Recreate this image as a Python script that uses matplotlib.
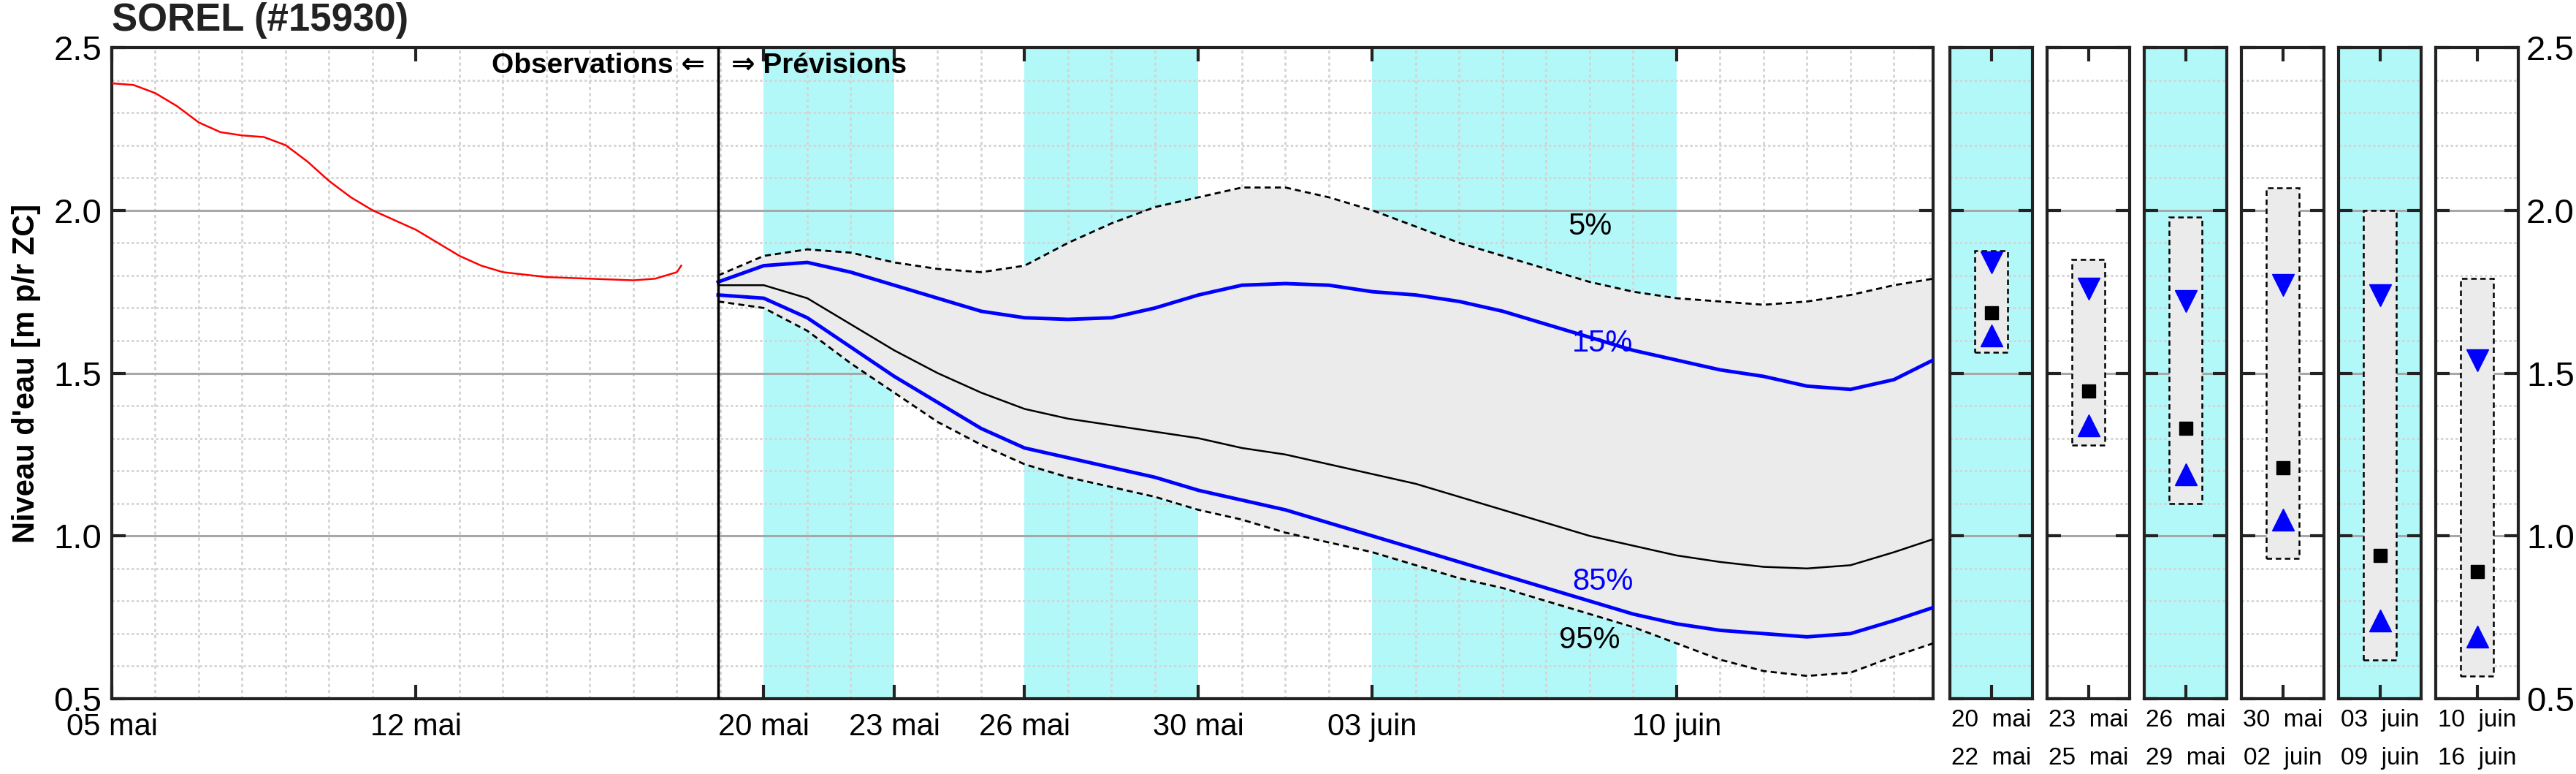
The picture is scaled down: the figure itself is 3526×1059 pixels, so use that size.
import matplotlib
matplotlib.use("Agg")
import matplotlib.pyplot as plt
import numpy as np

plt.rcParams['font.family'] = ['Liberation Sans', 'DejaVu Sans']

# ---- data (days since 05 mai) ----
obs_day = [0, 0.5, 1, 1.5, 2, 2.5, 3, 3.5, 4, 4.5, 5, 5.5, 6, 6.5, 7, 7.5, 8, 8.5, 9, 10, 11, 12, 12.5, 13, 13.1]
obs_val = [2.39, 2.385, 2.36, 2.32, 2.27, 2.24, 2.23, 2.225, 2.20, 2.15, 2.09, 2.04, 2.00, 1.97, 1.94, 1.90, 1.86, 1.83, 1.81, 1.795, 1.79, 1.785, 1.79, 1.81, 1.83]

fc_day = [13.95, 15, 16, 17, 18, 19, 20, 21, 22, 23, 24, 25, 26, 27, 28, 29, 30, 31, 32, 33, 34, 35, 36, 37, 38, 39, 40, 41, 41.9]
q05 = [1.80, 1.86, 1.88, 1.87, 1.84, 1.82, 1.81, 1.83, 1.90, 1.96, 2.01, 2.04, 2.07, 2.07, 2.04, 2.00, 1.95, 1.90, 1.86, 1.82, 1.78, 1.75, 1.73, 1.72, 1.71, 1.72, 1.74, 1.77, 1.79]
q15 = [1.78, 1.83, 1.84, 1.81, 1.77, 1.73, 1.69, 1.67, 1.665, 1.67, 1.70, 1.74, 1.77, 1.775, 1.77, 1.75, 1.74, 1.72, 1.69, 1.65, 1.61, 1.57, 1.54, 1.51, 1.49, 1.46, 1.45, 1.48, 1.54]
q50 = [1.77, 1.77, 1.73, 1.65, 1.57, 1.50, 1.44, 1.39, 1.36, 1.34, 1.32, 1.30, 1.27, 1.25, 1.22, 1.19, 1.16, 1.12, 1.08, 1.04, 1.00, 0.97, 0.94, 0.92, 0.905, 0.90, 0.91, 0.95, 0.99]
q85 = [1.74, 1.73, 1.67, 1.58, 1.49, 1.41, 1.33, 1.27, 1.24, 1.21, 1.18, 1.14, 1.11, 1.08, 1.04, 1.00, 0.96, 0.92, 0.88, 0.84, 0.80, 0.76, 0.73, 0.71, 0.70, 0.69, 0.70, 0.74, 0.78]
q95 = [1.72, 1.70, 1.63, 1.53, 1.44, 1.35, 1.28, 1.22, 1.18, 1.15, 1.12, 1.08, 1.05, 1.01, 0.98, 0.95, 0.91, 0.87, 0.84, 0.80, 0.76, 0.72, 0.67, 0.62, 0.585, 0.57, 0.58, 0.63, 0.67]

tick_days = [0, 7, 15, 18, 21, 25, 29, 36]
tick_labels = ["05 mai", "12 mai", "20 mai", "23 mai", "26 mai", "30 mai", "03 juin", "10 juin"]
cyan_spans = [(15, 18), (21, 25), (29, 36)]

panel_labels = ["20  mai\n22  mai", "23  mai\n25  mai", "26  mai\n29  mai",
                "30  mai\n02  juin", "03  juin\n09  juin", "10  juin\n16  juin"]
panel_cyan = [True, False, True, False, True, False]
box_top = [1.875, 1.85, 1.98, 2.07, 2.00, 1.79]
box_bot = [1.565, 1.28, 1.10, 0.93, 0.62, 0.57]
p_down = [1.84, 1.76, 1.72, 1.77, 1.74, 1.54]
p_med = [1.685, 1.445, 1.33, 1.21, 0.94, 0.89]
p_up = [1.615, 1.34, 1.19, 1.05, 0.74, 0.69]

W, H = 3526, 1059
CYAN = '#b3f8f9'
fig = plt.figure(figsize=(W / 100, H / 100), dpi=100)

def style(ax):
    for s in ax.spines.values():
        s.set_linewidth(3)
        s.set_color('#222222')
    ax.set_ylim(0.5, 2.5)
    ax.set_yticks([0.5, 1.0, 1.5, 2.0, 2.5])
    ax.set_yticks(np.arange(0.5, 2.5, 0.1), minor=True)
    ax.grid(True, which='major', axis='y', color='#a8a8a8', lw=2.2, ls='-')
    ax.grid(True, which='minor', axis='y', color='#d4d4d4', lw=2, ls=(0, (1.2, 1.2)))
    ax.tick_params(which='major', direction='in', length=14, width=3, color='#222222',
                   top=True, right=True)
    ax.tick_params(which='minor', length=0)
    ax.set_axisbelow(True)

ax = fig.add_axes([153 / W, 1 - 956 / H, (2646 - 153) / W, (956 - 65) / H])
style(ax)
ax.set_xlim(0, 41.9)
for a, b in cyan_spans:
    ax.axvspan(a, b, color=CYAN, lw=0, zorder=0)
ax.set_xticks(tick_days)
ax.set_xticklabels(tick_labels, fontsize=30)
ax.set_xticks(np.arange(0, 42, 1), minor=True)
ax.grid(True, which='minor', axis='x', color='#d4d4d4', lw=2, ls=(0, (1.5, 1.5)))
ax.tick_params(axis='y', labelsize=34, labelright=False, pad=10)
ax.tick_params(axis='x', pad=14)
ax.set_ylabel("Niveau d'eau [m p/r ZC]", fontsize=30, fontweight='bold', labelpad=12)

ax.fill_between(fc_day, q95, q05, color='#ebebeb', lw=0, zorder=1)
ax.plot(fc_day, q05, color='black', ls=(0, (3, 2)), lw=2, zorder=3)
ax.plot(fc_day, q95, color='black', ls=(0, (3, 2)), lw=2, zorder=3)
ax.plot(fc_day, q15, color='#0000ff', lw=3.5, zorder=4)
ax.plot(fc_day, q85, color='#0000ff', lw=3.5, zorder=4)
ax.plot(fc_day, q50, color='black', lw=1.8, zorder=4)
ax.plot(obs_day, obs_val, color='red', lw=1.8, zorder=4)
ax.axvline(13.95, color='black', lw=2.5, zorder=5)

ax.text(34, 1.95, "5%", fontsize=30, ha='center', va='center', zorder=6)
ax.text(34.3, 1.59, "15%", fontsize=30, color='#0000ff', ha='center', va='center', zorder=6)
ax.text(34.3, 0.86, "85%", fontsize=30, color='#0000ff', ha='center', va='center', zorder=6)
ax.text(34, 0.68, "95%", fontsize=30, ha='center', va='center', zorder=6)
ax.text(13.65, 2.445, "Observations ⇐", fontsize=28, fontweight='bold', ha='right', va='center')
ax.text(14.25, 2.445, "⇒ Prévisions", fontsize=28, fontweight='bold', ha='left', va='center')
fig.text(153 / W, 1 - 28 / H, "SOREL (#15930)", fontsize=38, fontweight='bold',
         color='#222222', ha='left', va='center')

for i in range(6):
    left = 2669 + 133 * i
    pa = fig.add_axes([left / W, 1 - 956 / H, 113 / W, (956 - 65) / H])
    style(pa)
    pa.set_xlim(0, 1)
    if panel_cyan[i]:
        pa.set_facecolor(CYAN)
    pa.set_xticks([0.5])
    pa.set_xticklabels([panel_labels[i]], fontsize=24, linespacing=1.9)
    pa.tick_params(axis='x', pad=10)
    pa.tick_params(axis='y', labelleft=False, labelright=(i == 5), labelsize=34, pad=8)
    pa.add_patch(plt.Rectangle((0.3, box_bot[i]), 0.4, box_top[i] - box_bot[i],
                               facecolor='#ebebeb', edgecolor='black', ls=(0, (3, 2)), lw=1.8, zorder=2))
    pa.plot([0.5], [p_down[i]], marker='v', color='#0000ff', ms=22, ls='none', zorder=3)
    pa.plot([0.5], [p_up[i]], marker='^', color='#0000ff', ms=22, ls='none', zorder=3)
    pa.plot([0.5], [p_med[i]], marker='s', color='black', ms=13, ls='none', zorder=3)

fig.savefig("out.png", dpi=100)
